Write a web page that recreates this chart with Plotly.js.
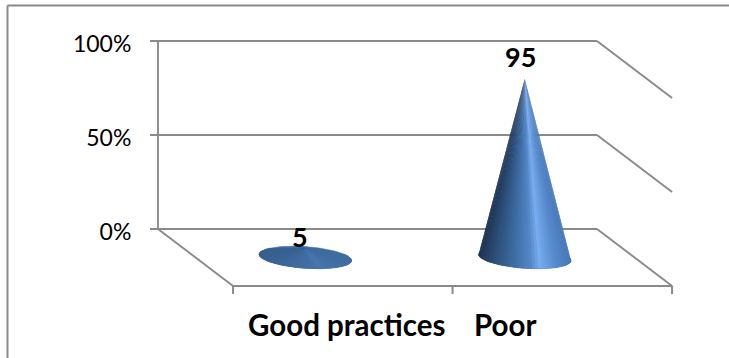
<!DOCTYPE html>
<html>
<head>
<meta charset="utf-8">
<script src="https://cdn.plot.ly/plotly-3.0.1.min.js"></script>
<style>html,body{margin:0;padding:0;background:#fff}#chart{width:729px;height:358px}</style>
</head>
<body>
<div id="chart"></div>
<script>
// Share of respondents per practice category
const categories = ["Good practices", "Poor"];
const values = [5, 95];
const percentTicks = [0, 50, 100];
const percentLabels = ["0%", "50%", "100%"];

const pageWidth = 729, pageHeight = 358;

// Back wall placement on the page: where category 0 and 0% sit, and the scale of each axis
const originX = 158, originY = 229, unitX = 219.5, unitY = 1.88;

// Oblique projection of the floor: one full depth step in axis units
const depthX = 0.342;
const depthY = -30.3;
const categoryCount = categories.length;
const topPercent = 100;

const gray = "#8a8a8a";

// Cone base ellipse, as two half-axes in axis units
const baseMajor = [0.2115, -1.75];
const baseMinor = [0.0034, 5.75];
const baseColour = [62, 106, 156];

// Shading across the cone surface, left to right
const shadeStops = [
  [0.00, [30, 50, 80]],
  [0.18, [44, 78, 120]],
  [0.42, [64, 112, 168]],
  [0.58, [84, 135, 198]],
  [0.68, [118, 172, 240]],
  [0.84, [88, 140, 206]],
  [1.00, [72, 120, 184]]
];

function mix(a, b, t) { return a.map((v, i) => v + (b[i] - v) * t); }
function shade(t) {
  for (let i = 1; i < shadeStops.length; i++) {
    if (t <= shadeStops[i][0]) {
      const [t0, c0] = shadeStops[i - 1], [t1, c1] = shadeStops[i];
      return mix(c0, c1, (t - t0) / (t1 - t0));
    }
  }
  return shadeStops[shadeStops.length - 1][1];
}
const rgb = c => `rgb(${c.map(Math.round).join(",")})`;

function lineTrace(x, y, width) {
  return {x, y, mode: "lines", hoverinfo: "skip", showlegend: false,
          line: {color: gray, width: width || 1.9}};
}

const traces = [];

// Back wall: left edge and horizontal gridlines
traces.push(lineTrace([0, 0], [0, topPercent]));
percentTicks.forEach(p => traces.push(lineTrace([0, categoryCount], [p, p])));

// Side walls and floor edges running from the back plane to the front
percentTicks.forEach(p => traces.push(lineTrace([categoryCount, categoryCount + depthX], [p, p + depthY])));
traces.push(lineTrace([0, depthX], [0, depthY]));
traces.push(lineTrace([depthX, categoryCount + depthX], [depthY, depthY], 2));
for (let i = 0; i <= categoryCount; i++) {
  traces.push(lineTrace([i + depthX, i + depthX], [depthY, depthY - 4.3], 2));
}

// Each cone is its base ellipse plus a fan of thin triangles from the apex to the base outline
const slices = 90;
values.forEach((value, idx) => {
  const cx = idx + 0.5 + depthX / 2;
  const cy = depthY / 2;
  const apex = [cx, cy + value];
  // Squat cones are lit almost evenly, tall ones pick up the full highlight
  const contrast = Math.min(1, 0.1 + value / 60);
  const point = phi => [
    cx + Math.cos(phi) * baseMajor[0] + Math.sin(phi) * baseMinor[0],
    cy + Math.cos(phi) * baseMajor[1] + Math.sin(phi) * baseMinor[1]
  ];
  const outline = [];
  for (let k = 0; k <= slices; k++) outline.push(point(2 * Math.PI * k / slices));
  traces.push({
    x: outline.map(p => p[0]), y: outline.map(p => p[1]),
    mode: "lines", fill: "toself", fillcolor: rgb(baseColour),
    line: {color: rgb(baseColour), width: 0.5},
    hoverinfo: "skip", showlegend: false
  });
  for (let k = 0; k < slices; k++) {
    const a0 = 2 * Math.PI * k / slices;
    const a1 = 2 * Math.PI * (k + 1.6) / slices;
    const p0 = point(a0), p1 = point(a1);
    // Keep only the slices that face the viewer
    const facing = (p0[0] - apex[0]) * (p1[1] - apex[1]) - (p0[1] - apex[1]) * (p1[0] - apex[0]);
    if (facing <= 0) continue;
    const t = (Math.cos((a0 + a1) / 2) + 1) / 2;
    const colour = rgb(mix(baseColour, shade(t), contrast));
    traces.push({
      x: [apex[0], p0[0], p1[0], apex[0]],
      y: [apex[1], p0[1], p1[1], apex[1]],
      mode: "lines", fill: "toself", fillcolor: colour,
      line: {color: colour, width: 0},
      hoverinfo: "skip", showlegend: false
    });
  }
});

// Value labels above the cones and category labels under the floor
const valueOffsetX = [-0.025, -0.02];
const valueLift = [6.4, 11.7];
const annotations = values.map((v, i) => ({
  x: i + 0.5 + depthX / 2 + valueOffsetX[i],
  y: depthY / 2 + v + valueLift[i],
  text: "<b>" + v + "</b>", showarrow: false, xanchor: "center", yanchor: "middle",
  font: {family: "Lato, sans-serif", size: 27, color: "#000"}
}));
const categoryOffsetX = [0.019, -0.261];
categories.forEach((c, i) => annotations.push({
  x: i + 0.5 + depthX + categoryOffsetX[i],
  y: -51,
  text: "<b>" + c + "</b>", showarrow: false, xanchor: "center", yanchor: "middle",
  font: {family: "Lato, sans-serif", size: 29.5, color: "#000"}
}));

const paperX = px => px / pageWidth;
const paperY = py => 1 - py / pageHeight;

const layout = {
  width: pageWidth, height: pageHeight,
  margin: {l: 0, r: 0, t: 0, b: 0, pad: 0},
  paper_bgcolor: "#fff", plot_bgcolor: "#fff",
  showlegend: false,
  xaxis: {range: [-originX / unitX, (pageWidth - originX) / unitX], visible: false, fixedrange: true},
  yaxis: {
    range: [(originY - pageHeight) / unitY, originY / unitY],
    anchor: "free", position: paperX(originX),
    tickvals: percentTicks, ticktext: percentLabels,
    ticks: "outside", ticklen: 8, tickwidth: 1.9, tickcolor: gray,
    ticklabelstandoff: 14, ticklabelshift: 3,
    showgrid: false, zeroline: false, showline: false,
    tickfont: {family: "Lato, sans-serif", size: 23, color: "#000"},
    fixedrange: true, automargin: false
  },
  annotations,
  // Outer frame: only its top and left edges fall inside the page
  shapes: [
    {type: "line", xref: "paper", yref: "paper", x0: paperX(7.5), x1: 1, y0: paperY(5.5), y1: paperY(5.5),
     line: {color: gray, width: 2}},
    {type: "line", xref: "paper", yref: "paper", x0: paperX(7.5), x1: paperX(7.5), y0: paperY(5.5), y1: 0,
     line: {color: gray, width: 2}}
  ]
};

Plotly.newPlot("chart", traces, layout, {displayModeBar: false, staticPlot: true});
</script>
</body>
</html>
